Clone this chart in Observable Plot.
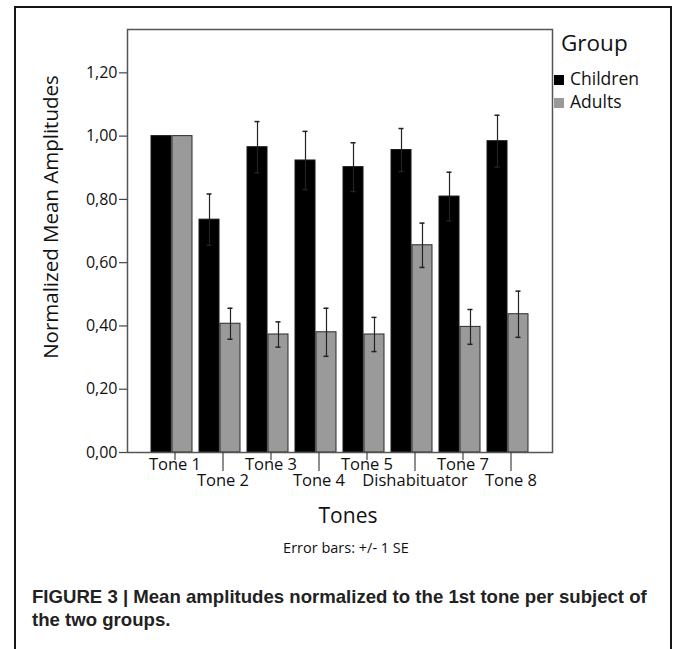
<!DOCTYPE html>
<html>
<head>
<meta charset="utf-8">
<script src="https://cdn.jsdelivr.net/npm/d3@7"></script>
<script src="https://cdn.jsdelivr.net/npm/@observablehq/plot@0.6"></script>
<style>
  html, body { margin: 0; padding: 0; background: #fff; }
  #wrap { position: relative; width: 673px; height: 649px; overflow: hidden; font-family: "Open Sans", sans-serif; color: #111; }
  #chart { position: absolute; left: 0; top: 0; }
  #border { position: absolute; left: 14px; top: 6px; width: 658px; height: 720px; border: 2px solid #151515; border-bottom: none; box-sizing: border-box; }
  .t { position: absolute; white-space: nowrap; line-height: 1; }
  .c { transform: translate(-50%, -50%); }
  .sw { position: absolute; width: 10px; height: 10px; box-sizing: border-box; }
  .cap { position: absolute; left: 32px; font-family: "Liberation Sans Narrow", "Liberation Sans", sans-serif; font-weight: bold; font-size: 18.6px; color: #222; white-space: nowrap; line-height: 1; }
</style>
</head>
<body>
<div id="wrap">
  <div id="chart"></div>
  <div id="border"></div>
</div>
<script>
// ---- data ----
const tones = ["Tone 1", "Tone 2", "Tone 3", "Tone 4", "Tone 5", "Dishabituator", "Tone 7", "Tone 8"];
const groups = ["Children", "Adults"];
const groupColors = ["#000000", "#9a9a9a"];
const childrenMean = [1.000, 0.736, 0.965, 0.923, 0.902, 0.956, 0.809, 0.984];
const childrenSE   = [0.000, 0.081, 0.081, 0.092, 0.077, 0.068, 0.077, 0.082];
const adultsMean   = [1.000, 0.407, 0.373, 0.380, 0.373, 0.655, 0.397, 0.437];
const adultsSE     = [0.000, 0.049, 0.040, 0.076, 0.054, 0.070, 0.055, 0.073];
const yTicks = [0, 0.2, 0.4, 0.6, 0.8, 1.0, 1.2];
const yTitle = "Normalized Mean Amplitudes";
const xTitle = "Tones";
const note = "Error bars: +/- 1 SE";
const legendTitle = "Group";
const captionLines = ["FIGURE 3 | Mean amplitudes normalized to the 1st tone per subject of", "the two groups."];

// ---- build table ----
const rows = [];
tones.forEach((t, i) => {
  rows.push({tone: t, group: groups[0], mean: childrenMean[i], se: childrenSE[i]});
  rows.push({tone: t, group: groups[1], mean: adultsMean[i], se: adultsSE[i]});
});
const kids = rows.filter(d => d.group === groups[0]);
const adults = rows.filter(d => d.group === groups[1]);
const errKids = kids.filter(d => d.se > 0);
const errAdults = adults.filter(d => d.se > 0);

// ---- layout ----
const W = 673, H = 540;
const mL = 127, mR = 121, mT = 29, mB = 88;
const pIn = 0.14, pOut = 0.425;
const step = (W - mL - mR) / (tones.length - pIn + 2 * pOut);
const bw = step * (1 - pIn);
const half = bw / 2;
const capHalf = 3;
const capIn = half / 2 - capHalf;

const fmt = d => d.toFixed(2).replace(".", ",");
const odd = tones.filter((d, i) => i % 2 === 0);
const even = tones.filter((d, i) => i % 2 === 1);

const plot = Plot.plot({
  width: W, height: H,
  marginLeft: mL, marginRight: mR, marginTop: mT, marginBottom: mB,
  style: {background: "transparent", fontFamily: "'Open Sans', sans-serif", color: "#111", overflow: "visible"},
  x: {type: "band", domain: tones, paddingInner: pIn, paddingOuter: pOut, label: null},
  y: {domain: [0, 1.337], label: null},
  marks: [
    Plot.barY(kids, {x: "tone", y: "mean", fill: groupColors[0], stroke: "#1a1a1a", strokeWidth: 1, insetRight: half}),
    Plot.barY(adults, {x: "tone", y: "mean", fill: groupColors[1], stroke: "#2a2a2a", strokeWidth: 1, insetLeft: half}),
    Plot.ruleX(errKids, {x: "tone", y1: d => d.mean - d.se, y2: d => d.mean + d.se, dx: -half / 2, stroke: "#222", strokeWidth: 1.2}),
    Plot.ruleX(errAdults, {x: "tone", y1: d => d.mean - d.se, y2: d => d.mean + d.se, dx: half / 2, stroke: "#222", strokeWidth: 1.2}),
    Plot.tickY(errKids, {x: "tone", y: d => d.mean + d.se, insetLeft: capIn, insetRight: bw - capIn - 2 * capHalf, stroke: "#222", strokeWidth: 1.5}),
    Plot.tickY(errKids, {x: "tone", y: d => d.mean - d.se, insetLeft: capIn, insetRight: bw - capIn - 2 * capHalf, stroke: "#222", strokeWidth: 1.5}),
    Plot.tickY(errAdults, {x: "tone", y: d => d.mean + d.se, insetLeft: bw - capIn - 2 * capHalf, insetRight: capIn, stroke: "#222", strokeWidth: 1.5}),
    Plot.tickY(errAdults, {x: "tone", y: d => d.mean - d.se, insetLeft: bw - capIn - 2 * capHalf, insetRight: capIn, stroke: "#222", strokeWidth: 1.5}),
    Plot.frame({stroke: "#555", strokeWidth: 1.5}),
    Plot.axisY(yTicks, {tickFormat: fmt, tickSize: 8, tickPadding: 2, fontSize: 16, label: null, stroke: "#444", strokeWidth: 1.2}),
    Plot.axisX(odd, {tickSize: 8, tickPadding: -2.5, fontSize: 16.5, dx: 3, label: null, stroke: "#444", strokeWidth: 1.2}),
    Plot.axisX(even, {tickSize: 19, tickPadding: 3.2, fontSize: 16.5, dx: 3, label: null, stroke: "#444", strokeWidth: 1.2})
  ]
});
document.getElementById("chart").appendChild(plot);

// ---- outside texts ----
const wrap = document.getElementById("wrap");
function addText(txt, cls, css) {
  const el = document.createElement("div");
  el.className = cls;
  el.textContent = txt;
  Object.assign(el.style, css);
  wrap.appendChild(el);
  return el;
}
addText(yTitle, "t", {left: "50px", top: "217px", fontSize: "20.5px", transform: "translate(-50%,-50%) rotate(-90deg)"});
addText(xTitle, "t c", {left: "348px", top: "515px", fontSize: "21px"});
addText(note, "t c", {left: "346px", top: "548px", fontSize: "14.5px", fontFamily: "'Liberation Sans Narrow', 'Open Sans', sans-serif"});
addText(legendTitle, "t", {left: "561px", top: "32px", fontSize: "22.5px"});
groups.forEach((g, i) => {
  const y = 75 + i * 23;
  const sw = document.createElement("div");
  sw.className = "sw";
  Object.assign(sw.style, {left: "554px", top: y + "px", background: groupColors[i], border: "1px solid " + (i === 0 ? "#000" : "#999")});
  wrap.appendChild(sw);
  addText(g, "t", {left: "570px", top: (y - 5) + "px", fontSize: "17.5px"});
});
captionLines.forEach((l, i) => {
  const el = document.createElement("div");
  el.className = "cap";
  el.textContent = l;
  el.style.top = (588 + i * 23) + "px";
  wrap.appendChild(el);
});
</script>
</body>
</html>
